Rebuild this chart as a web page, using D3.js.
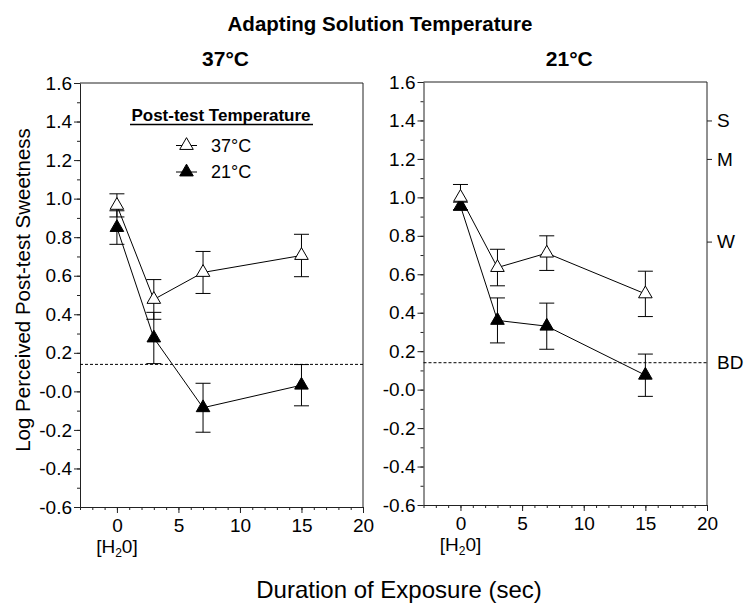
<!DOCTYPE html>
<html><head><meta charset="utf-8">
<script src="https://cdn.jsdelivr.net/npm/d3@7"></script>
<style>
body{margin:0;background:#fff}
text{font-family:"Liberation Sans",Arial,Helvetica,sans-serif;fill:#000}
</style>
</head><body><svg id="c" width="750" height="608"></svg>
<script>
// ---- data ----
const durations = [0, 3, 7, 15];
const left37 = [0.965, 0.477, 0.617, 0.705];
const left37err = [0.06, 0.103, 0.109, 0.11];
const left21 = [0.85, 0.277, -0.085, 0.032];
const left21err = [0.087, 0.133, 0.127, 0.107];
const right37 = [1.0, 0.635, 0.71, 0.498];
const right37err = [0.067, 0.095, 0.09, 0.118];
const right21 = [0.955, 0.36, 0.33, 0.075];
const right21err = [0.02, 0.117, 0.12, 0.11];
const yTickValues = [-0.6, -0.4, -0.2, 0, 0.2, 0.4, 0.6, 0.8, 1.0, 1.2, 1.4, 1.6];
const yTickLabels = ["-0.6", "-0.4", "-0.2", "-0.0", "0.2", "0.4", "0.6", "0.8", "1.0", "1.2", "1.4", "1.6"];
const yMinorTicks = d3.range(-6, 17).map(d => d / 10);
const xTickValues = [0, 5, 10, 15, 20];
const xTickLabels = ["0", "5", "10", "15", "20"];
const xMinorTicks = d3.range(-3, 21);
const intensityLabels = ["S", "M", "W", "BD"];
const intensityValues = [1.4, 1.2, 0.77, 0.14];
const thresholdBD = 0.14;
const panelTitles = ["37°C", "21°C"];
const seriesNames = ["37°C", "21°C"];

// ---- layout ----
const svg = d3.select("#c");
const panels = [
  {title: panelTitles[0], x0: 80, x1: 363, y0: 507, y1: 83, s37: left37, e37: left37err, s21: left21, e21: left21err, legend: true, rightAxis: false},
  {title: panelTitles[1], x0: 423.5, x1: 707, y0: 505, y1: 82, s37: right37, e37: right37err, s21: right21, e21: right21err, legend: false, rightAxis: true}
];
const tri = d3.symbol().type(d3.symbolTriangle).size(80);
const FONT_TICK = 19;

svg.append("text").attr("x", 380).attr("y", 31).attr("text-anchor", "middle")
  .style("font-weight", "bold").style("font-size", "20.5px").text("Adapting Solution Temperature");

panels.forEach(p => {
  const x = d3.scaleLinear().domain([-3, 20]).range([p.x0, p.x1]);
  const y = d3.scaleLinear().domain([-0.6, 1.6]).range([p.y0, p.y1]);
  const g = svg.append("g");

  g.append("text").attr("x", (p.x0 + p.x1) / 2 + 4).attr("y", 65.5).attr("text-anchor", "middle")
    .style("font-weight", "bold").style("font-size", "21px").text(p.title);

  // minor ticks
  g.append("g").attr("transform", `translate(0,${p.y0})`)
    .call(d3.axisBottom(x).tickValues(xMinorTicks).tickSize(3).tickFormat(""))
    .call(a => a.select(".domain").remove());
  g.append("g").attr("transform", `translate(${p.x0},0)`)
    .call(d3.axisLeft(y).tickValues(yMinorTicks).tickSize(3).tickFormat(""))
    .call(a => a.select(".domain").remove());

  // major axes
  const xa = g.append("g").attr("transform", `translate(0,${p.y0})`)
    .call(d3.axisBottom(x).tickValues(xTickValues).tickSize(6).tickPadding(6)
      .tickFormat((d, i) => xTickLabels[i]).tickSizeOuter(0));
  xa.selectAll("text").style("font-size", FONT_TICK + "px").attr("fill", "#000");
  const ya = g.append("g").attr("transform", `translate(${p.x0},0)`)
    .call(d3.axisLeft(y).tickValues(yTickValues).tickSize(6).tickPadding(2)
      .tickFormat((d, i) => yTickLabels[i]).tickSizeOuter(0));
  ya.selectAll("text").style("font-size", FONT_TICK + "px").attr("fill", "#000");
  g.selectAll(".domain, .tick line").attr("stroke", "#222");

  // frame top & right
  g.append("path").attr("d", `M${p.x0},${p.y1}H${p.x1}V${p.y0}`).attr("fill", "none").attr("stroke", "#222");

  // [H2O] label
  const h = g.append("text").attr("x", x(0)).attr("y", p.y0 + 46).attr("text-anchor", "middle")
    .style("font-size", "19px");
  h.append("tspan").text("[H");
  h.append("tspan").attr("dy", 4).style("font-size", "12px").text("2");
  h.append("tspan").attr("dy", -4).text("0]");

  // BD dashed line
  g.append("line").attr("x1", p.x0).attr("x2", p.x1).attr("y1", y(thresholdBD)).attr("y2", y(thresholdBD))
    .attr("stroke", "#000").attr("stroke-dasharray", "3,2").attr("stroke-width", 1);

  // right intensity axis
  if (p.rightAxis) {
    const ra = g.append("g").attr("transform", `translate(${p.x1},0)`)
      .call(d3.axisRight(y).tickValues(intensityValues).tickSize(5).tickPadding(5)
        .tickFormat((d, i) => intensityLabels[i]).tickSizeOuter(0));
    ra.select(".domain").remove();
    ra.selectAll(".tick line").attr("stroke", "#222").filter(d => d === thresholdBD).remove();
    ra.selectAll("text").style("font-size", FONT_TICK + "px").attr("fill", "#000");
  }

  // series
  const series = [
    {vals: p.s21, errs: p.e21, fill: "#000"},
    {vals: p.s37, errs: p.e37, fill: "#fff"}
  ];
  const line = d3.line().x((d, i) => x(durations[i])).y(d => y(d));
  series.forEach(s => {
    g.append("path").datum(s.vals).attr("d", line).attr("fill", "none").attr("stroke", "#000").attr("stroke-width", 1);
  });
  series.forEach(s => {
    const eg = g.append("g").attr("stroke", "#000").attr("stroke-width", 1);
    s.vals.forEach((v, i) => {
      const cx = x(durations[i]), top = y(v + s.errs[i]), bot = y(v - s.errs[i]);
      eg.append("line").attr("x1", cx).attr("x2", cx).attr("y1", top).attr("y2", bot);
      eg.append("line").attr("x1", cx - 7.5).attr("x2", cx + 7.5).attr("y1", top).attr("y2", top);
      eg.append("line").attr("x1", cx - 7.5).attr("x2", cx + 7.5).attr("y1", bot).attr("y2", bot);
    });
  });
  series.forEach(s => {
    g.selectAll(null).data(s.vals).enter().append("path")
      .attr("d", tri).attr("transform", (d, i) => `translate(${x(durations[i])},${y(d)})`)
      .attr("fill", s.fill).attr("stroke", "#000").attr("stroke-width", 1);
  });

  // legend
  if (p.legend) {
    g.append("text").attr("x", 221).attr("y", 121).attr("text-anchor", "middle")
      .style("font-weight", "bold").style("font-size", "17px").text("Post-test Temperature");
    g.append("line").attr("x1", 130).attr("x2", 313).attr("y1", 124.5).attr("y2", 124.5)
      .attr("stroke", "#000").attr("stroke-width", 1.5);
    [{name: seriesNames[0], fill: "#fff", yy: 145.5}, {name: seriesNames[1], fill: "#000", yy: 172}].forEach(it => {
      g.append("line").attr("x1", 176).attr("x2", 197).attr("y1", it.yy).attr("y2", it.yy).attr("stroke", "#000");
      g.append("path").attr("d", tri).attr("transform", `translate(186.5,${it.yy})`)
        .attr("fill", it.fill).attr("stroke", "#000");
      g.append("text").attr("x", 211).attr("y", it.yy + 6).style("font-size", "18px").text(it.name);
    });
  }
});

// axis titles
svg.append("text").attr("transform", "translate(30,290) rotate(-90)").attr("text-anchor", "middle")
  .style("font-size", "20.5px").text("Log Perceived Post-test Sweetness");
svg.append("text").attr("x", 399).attr("y", 598).attr("text-anchor", "middle")
  .style("font-size", "24px").text("Duration of Exposure (sec)");
</script></body></html>
